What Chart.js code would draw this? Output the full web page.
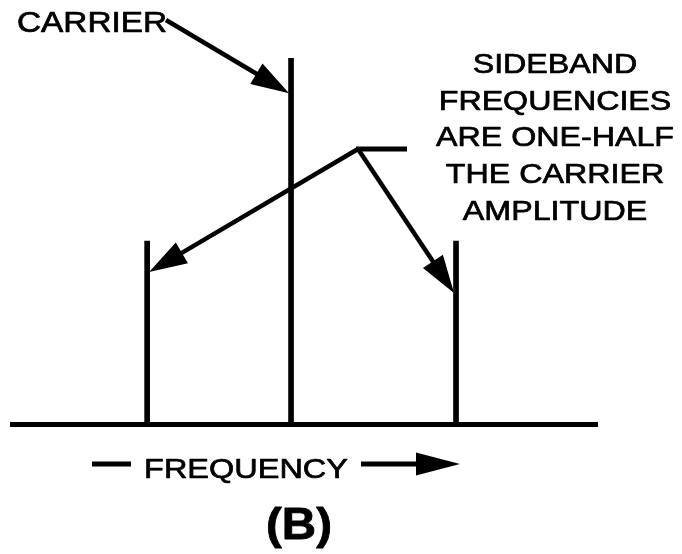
<!DOCTYPE html>
<html lang="en">
  <head>
    <meta charset="UTF-8" />
    <title>Sideband frequencies</title>
    <script src="https://cdn.jsdelivr.net/npm/chart.js"></script>
    <style>
      html, body { margin: 0; padding: 0; background: #fff; }
      #wrap { width: 682px; height: 554px; }
    </style>
  </head>
  <body>
    <div id="wrap"><canvas id="spectrum"></canvas></div>
    <script>
      // data
      const lineNames = ["LOWER SIDEBAND", "CARRIER", "UPPER SIDEBAND"];
      const frequencies = [23.1, 47.7, 75.9]; // position along the frequency axis (0-100)
      const amplitudes = [0.5, 1, 0.5]; // relative to carrier
      const carrierLabel = "CARRIER";
      const sidebandNote = ["SIDEBAND", "FREQUENCIES", "ARE ONE-HALF", "THE CARRIER", "AMPLITUDE"];
      const axisLabel = "FREQUENCY";
      const figureLabel = "(B)";
      // where the arrows touch the lines (amplitude units)
      const arrowTips = [0.415, 0.904, 0.358];

      const FONT = "'Liberation Sans', Arial, sans-serif";

      // stretched text, the source drawing is a bit wider and heavier than Arial
      function wideText(ctx, text, x, y, size, align, bold, stretch) {
        ctx.save();
        ctx.font = (bold ? "bold " : "") + size + "px " + FONT;
        ctx.textAlign = align;
        ctx.textBaseline = "alphabetic";
        ctx.translate(x, y);
        ctx.scale(stretch, 1);
        ctx.fillText(text, 0, 0);
        ctx.lineWidth = bold ? 0.8 : 0.7;
        ctx.lineJoin = "round";
        ctx.strokeText(text, 0, 0);
        ctx.restore();
      }

      function arrow(ctx, x1, y1, x2, y2, headLen, headHalf) {
        const a = Math.atan2(y2 - y1, x2 - x1);
        const bx = x2 - Math.cos(a) * headLen;
        const by = y2 - Math.sin(a) * headLen;
        ctx.beginPath();
        ctx.moveTo(x1, y1);
        ctx.lineTo(bx + Math.cos(a) * 4, by + Math.sin(a) * 4);
        ctx.stroke();
        ctx.beginPath();
        ctx.moveTo(x2, y2);
        ctx.lineTo(bx + Math.sin(a) * headHalf, by - Math.cos(a) * headHalf);
        ctx.lineTo(bx - Math.sin(a) * headHalf, by + Math.cos(a) * headHalf);
        ctx.closePath();
        ctx.fill();
      }

      const notes = {
        id: "notes",
        afterDraw(chart) {
          const { ctx, scales } = chart;
          const x = scales.x, y = scales.y;
          ctx.save();
          ctx.fillStyle = "#000";
          ctx.strokeStyle = "#000";
          ctx.lineCap = "butt";

          // carrier label + arrow
          wideText(ctx, carrierLabel, 17, 32, 29, "left", false, 1.15);
          ctx.lineWidth = 4.5;
          arrow(ctx, 166, 20, x.getPixelForValue(frequencies[1]) - 2, y.getPixelForValue(arrowTips[1]), 38, 12);

          // sideband note
          sidebandNote.forEach((t, i) => wideText(ctx, t, 555, 73 + i * 36.7, 28, "center", false, 1.15));
          const kx = 358, ky = 149;
          ctx.lineWidth = 5;
          ctx.beginPath();
          ctx.moveTo(kx - 2, ky);
          ctx.lineTo(407, ky);
          ctx.stroke();
          ctx.lineWidth = 4.5;
          arrow(ctx, kx, ky, x.getPixelForValue(frequencies[0]) + 2, y.getPixelForValue(arrowTips[0]), 38, 12);
          arrow(ctx, kx, ky, x.getPixelForValue(frequencies[2]) - 2, y.getPixelForValue(arrowTips[2]), 38, 12);

          // frequency axis label
          ctx.lineWidth = 5;
          ctx.beginPath();
          ctx.moveTo(92, 464);
          ctx.lineTo(131, 464);
          ctx.stroke();
          wideText(ctx, axisLabel, 246, 478, 28, "center", false, 1.16);
          arrow(ctx, 361, 464, 460, 464, 44, 11.5);

          wideText(ctx, figureLabel, 299, 539, 44, "center", true, 1.08);
          ctx.restore();
        },
      };

      new Chart(document.getElementById("spectrum"), {
        type: "bar",
        data: {
          labels: lineNames,
          datasets: [
            {
              data: frequencies.map((f, i) => ({ x: f, y: amplitudes[i] })),
              backgroundColor: "#000",
              barThickness: 5,
            },
          ],
        },
        options: {
          responsive: true,
          maintainAspectRatio: false,
          animation: false,
          layout: { padding: { top: 58, left: 12, right: 85, bottom: 130 } },
          plugins: { legend: { display: false }, tooltip: { enabled: false } },
          scales: {
            x: {
              type: "linear",
              min: 0,
              max: 100,
              offset: false,
              grid: { display: false, drawTicks: false },
              ticks: { display: false },
              border: { display: true, color: "#000", width: 5 },
            },
            y: { display: false, min: 0, max: 1 },
          },
        },
        plugins: [notes],
      });
    </script>
  </body>
</html>
